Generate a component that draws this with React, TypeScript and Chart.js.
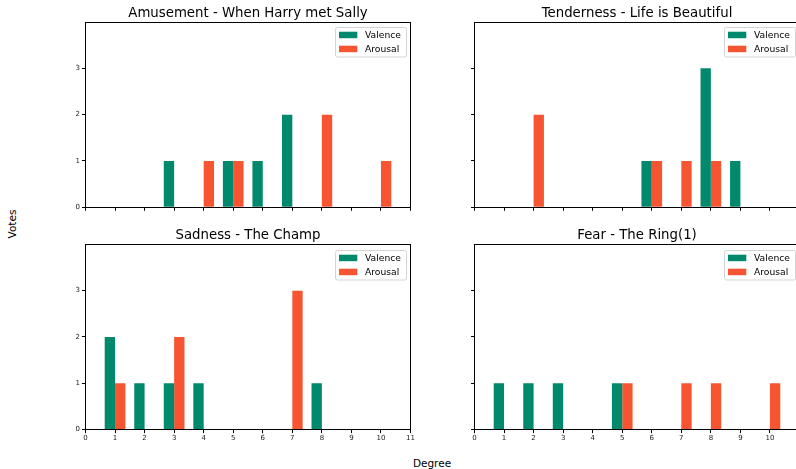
import React, { useEffect, useRef } from 'react';
import { Chart, registerables } from 'chart.js';

Chart.register(...registerables);

// ---------------- data ----------------
const DEGREES = [1, 2, 3, 4, 5, 6, 7, 8, 9, 10];
const X_TICKS = [0, 1, 2, 3, 4, 5, 6, 7, 8, 9, 10, 11];
const Y_TICKS = [0, 1, 2, 3];
const SERIES_NAMES = ['Valence', 'Arousal'];
const SERIES_COLORS = ['#00896c', '#f75532'];

const AMUSEMENT_VALENCE = [0, 0, 1, 0, 1, 1, 2, 0, 0, 0];
const AMUSEMENT_AROUSAL = [0, 0, 0, 1, 1, 0, 0, 2, 0, 1];
const TENDERNESS_VALENCE = [0, 0, 0, 0, 0, 1, 0, 3, 1, 0];
const TENDERNESS_AROUSAL = [0, 2, 0, 0, 0, 1, 1, 1, 0, 0];
const SADNESS_VALENCE = [2, 1, 1, 1, 0, 0, 0, 1, 0, 0];
const SADNESS_AROUSAL = [1, 0, 2, 0, 0, 0, 3, 0, 0, 0];
const FEAR_VALENCE = [1, 1, 1, 0, 1, 0, 0, 0, 0, 0];
const FEAR_AROUSAL = [0, 0, 0, 0, 1, 0, 1, 1, 0, 1];

const TITLES = [
  'Amusement - When Harry met Sally',
  'Tenderness - Life is Beautiful',
  'Sadness - The Champ',
  'Fear - The Ring(1)',
];
const X_LABEL = 'Degree';
const Y_LABEL = 'Votes';
const Y_MAX = 4;
const X_MIN = 0;
const X_MAX = 11;

// ---------------- layout ----------------
const FONT = "'DejaVu Sans', 'Liberation Sans', sans-serif";
const AREA_W = 325;
const AREA_H = 185.3;
const TITLE_SIZE = 13.3;
const TITLE_LH = 1.2;
const TITLE_PAD_BOTTOM = 0.8;
const PAD_R = 10;
const X_AXIS_H = 16;

type PanelCfg = {
  title: string;
  valence: number[];
  arousal: number[];
  areaLeft: number;
  areaTop: number;
  showX: boolean;
  showY: boolean;
  lastXLabel: boolean;
};

const PANELS: PanelCfg[] = [
  { title: TITLES[0], valence: AMUSEMENT_VALENCE, arousal: AMUSEMENT_AROUSAL, areaLeft: 85.5, areaTop: 22, showX: false, showY: true, lastXLabel: true },
  { title: TITLES[1], valence: TENDERNESS_VALENCE, arousal: TENDERNESS_AROUSAL, areaLeft: 474.5, areaTop: 22, showX: false, showY: false, lastXLabel: false },
  { title: TITLES[2], valence: SADNESS_VALENCE, arousal: SADNESS_AROUSAL, areaLeft: 85.5, areaTop: 244.3, showX: true, showY: true, lastXLabel: true },
  { title: TITLES[3], valence: FEAR_VALENCE, arousal: FEAR_AROUSAL, areaLeft: 474.5, areaTop: 244.3, showX: true, showY: false, lastXLabel: false },
];

const frameAndLegend = {
  id: 'frameAndLegend',
  afterDatasetsDraw(chart: any) {
    const { ctx, chartArea } = chart;
    const { left, top, right, bottom } = chartArea;
    ctx.save();
    // spines
    ctx.strokeStyle = '#000';
    ctx.lineWidth = 1;
    const l = Math.floor(left) + 0.5;
    const t = Math.floor(top) + 0.5;
    const r = Math.floor(right) + 0.5;
    const b = Math.floor(bottom) + 0.5;
    ctx.strokeRect(l, t, r - l, b - t);

    // legend
    const fw = 71;
    const fh = 29.5;
    const fx = Math.round(right - 4.5 - fw) + 0.5;
    const fy = Math.round(top + 5.3) + 0.5;
    ctx.beginPath();
    ctx.roundRect(fx, fy, fw, fh, 2);
    ctx.fillStyle = 'rgba(255,255,255,0.8)';
    ctx.fill();
    ctx.strokeStyle = '#d4d4d4';
    ctx.stroke();
    ctx.font = `9.2px ${FONT}`;
    ctx.textBaseline = 'middle';
    ctx.textAlign = 'left';
    chart.data.datasets.forEach((ds: any, i: number) => {
      const cy = fy + 7.4 + i * 14;
      ctx.fillStyle = ds.backgroundColor;
      ctx.fillRect(fx + 3.5, cy - 3.2, 18.3, 6.5);
      ctx.fillStyle = '#000';
      ctx.fillText(ds.label, fx + 29.5, cy + 0.5);
    });
    ctx.restore();
  },
};

function Panel({ cfg }: { cfg: PanelCfg }) {
  const ref = useRef<HTMLCanvasElement | null>(null);
  const canvasLeft = Math.floor(cfg.areaLeft) - 40;
  const canvasTop = Math.floor(cfg.areaTop) - 22;
  const yw = cfg.areaLeft - canvasLeft;
  const titleLine = TITLE_SIZE * TITLE_LH;
  const titlePadTop = cfg.areaTop - canvasTop - titleLine - TITLE_PAD_BOTTOM;
  const width = Math.round(yw + AREA_W + PAD_R);
  const padRight = width - yw - AREA_W;
  const height = Math.ceil(cfg.areaTop - canvasTop + AREA_H + X_AXIS_H);
  const xh = height - (cfg.areaTop - canvasTop) - AREA_H;

  useEffect(() => {
    if (!ref.current) return;
    const chart = new Chart(ref.current, {
      type: 'bar',
      data: {
        datasets: [
          {
            label: SERIES_NAMES[0],
            data: DEGREES.map((d, i) => ({ x: d, y: cfg.valence[i] })),
            backgroundColor: SERIES_COLORS[0],
            borderWidth: 0,
          },
          {
            label: SERIES_NAMES[1],
            data: DEGREES.map((d, i) => ({ x: d, y: cfg.arousal[i] })),
            backgroundColor: SERIES_COLORS[1],
            borderWidth: 0,
          },
        ],
      },
      options: {
        animation: false,
        responsive: false,
        maintainAspectRatio: false,
        devicePixelRatio: 1,
        categoryPercentage: 0.7,
        barPercentage: 1.0,
        layout: { padding: { left: 0, top: 0, right: padRight, bottom: 0 } },
        plugins: {
          legend: { display: false },
          tooltip: { enabled: false },
          title: {
            display: true,
            text: cfg.title,
            fullSize: false,
            color: '#000',
            font: { family: FONT, size: TITLE_SIZE, lineHeight: TITLE_LH, weight: 'normal' },
            padding: { top: titlePadTop, bottom: TITLE_PAD_BOTTOM },
          },
        },
        scales: {
          x: {
            type: 'linear',
            min: X_MIN,
            max: X_MAX,
            offset: false,
            afterBuildTicks: (s: any) => {
              s.ticks = X_TICKS.map((v) => ({ value: v }));
            },
            afterFit: (s: any) => {
              s.height = xh;
            },
            ticks: {
              display: cfg.showX,
              stepSize: 1,
              color: '#222',
              padding: 1,
              maxRotation: 0,
              autoSkip: false,
              font: { family: FONT, size: 7 },
              callback: (v: any) => (!cfg.lastXLabel && v === X_MAX ? '' : String(v)),
            },
            grid: {
              display: true,
              offset: false,
              drawOnChartArea: false,
              drawTicks: true,
              tickLength: 3.5,
              color: '#000',
              lineWidth: 1,
            },
            border: { display: false },
          },
          y: {
            type: 'linear',
            min: 0,
            max: Y_MAX,
            afterBuildTicks: (s: any) => {
              s.ticks = Y_TICKS.map((v) => ({ value: v }));
            },
            afterFit: (s: any) => {
              s.width = yw;
            },
            ticks: {
              display: cfg.showY,
              stepSize: 1,
              color: '#222',
              padding: 2,
              font: { family: FONT, size: 7 },
            },
            grid: {
              display: true,
              drawOnChartArea: false,
              drawTicks: true,
              tickLength: 3.5,
              color: '#000',
              lineWidth: 1,
            },
            border: { display: false },
          },
        },
      } as any,
      plugins: [frameAndLegend],
    });
    return () => chart.destroy();
  }, []);

  return (
    <canvas
      ref={ref}
      width={width}
      height={height}
      style={{ position: 'absolute', left: canvasLeft, top: canvasTop, width, height }}
    />
  );
}

export default function App() {
  return (
    <div
      style={{
        position: 'fixed',
        left: 0,
        top: 0,
        width: 796,
        height: 469,
        overflow: 'hidden',
        background: '#fff',
        fontFamily: FONT,
      }}
    >
      {PANELS.map((p, i) => (
        <Panel key={i} cfg={p} />
      ))}
      <div
        style={{
          position: 'absolute',
          left: 12,
          top: 223.5,
          transform: 'translate(-50%, -50%) rotate(-90deg)',
          fontSize: 10.5,
          color: '#000',
          whiteSpace: 'nowrap',
          lineHeight: 1,
        }}
      >
        {Y_LABEL}
      </div>
      <div
        style={{
          position: 'absolute',
          left: 432,
          top: 463,
          transform: 'translate(-50%, -50%)',
          fontSize: 10.5,
          color: '#000',
          whiteSpace: 'nowrap',
          lineHeight: 1,
        }}
      >
        {X_LABEL}
      </div>
    </div>
  );
}
